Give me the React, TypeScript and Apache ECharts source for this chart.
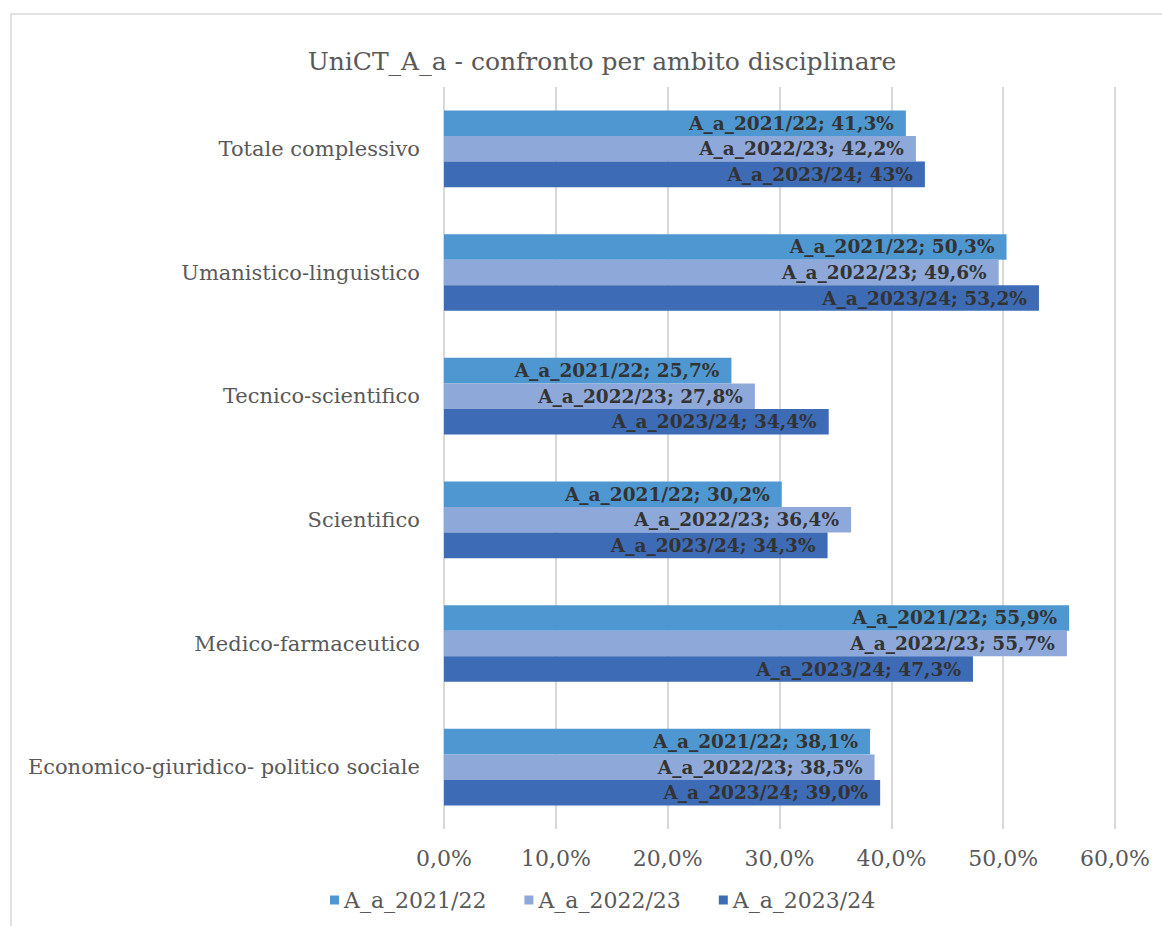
import React, { useEffect, useRef } from "react";
import * as echarts from "echarts";

const categories = [
  "Totale complessivo",
  "Umanistico-linguistico",
  "Tecnico-scientifico",
  "Scientifico",
  "Medico-farmaceutico",
  "Economico-giuridico- politico sociale",
];

const seriesNames = ["A_a_2021/22", "A_a_2022/23", "A_a_2023/24"];

const values2021 = [41.3, 50.3, 25.7, 30.2, 55.9, 38.1];
const values2022 = [42.2, 49.6, 27.8, 36.4, 55.7, 38.5];
const values2023 = [43.0, 53.2, 34.4, 34.3, 47.3, 39.0];

const labels2021 = ["41,3%", "50,3%", "25,7%", "30,2%", "55,9%", "38,1%"];
const labels2022 = ["42,2%", "49,6%", "27,8%", "36,4%", "55,7%", "38,5%"];
const labels2023 = ["43%", "53,2%", "34,4%", "34,3%", "47,3%", "39,0%"];

const xTicks = [0, 10, 20, 30, 40, 50, 60];

const colors = ["#4F97D1", "#8EA9D9", "#3D6BB5"];
const FONT = "DejaVu Serif";

export default function App() {
  const ref = useRef<HTMLDivElement>(null);
  useEffect(() => {
    if (!ref.current) return;
    const chart = echarts.init(ref.current, undefined, { renderer: "svg" });
    const allValues = [values2021, values2022, values2023];
    const allLabels = [labels2021, labels2022, labels2023];
    chart.setOption({
      animation: false,
      textStyle: { fontFamily: FONT },
      title: {
        text: "UniCT_A_a - confronto per ambito disciplinare",
        left: 597,
        top: 44,
        textAlign: "center",
        textStyle: { fontFamily: FONT, fontSize: 25, fontWeight: "normal", color: "#595959" },
      },
      graphic: [
        {
          type: "rect",
          shape: { x: 11, y: 14, width: 1300, height: 1000 },
          style: { fill: "none", stroke: "#D9D9D9", lineWidth: 1.5 },
          silent: true,
        },
      ],
      legend: {
        data: seriesNames,
        bottom: 10,
        left: 325,
        itemWidth: 9,
        itemHeight: 9,
        itemGap: 38,
        icon: "rect",
        textStyle: { fontFamily: FONT, fontSize: 22, color: "#595959" },
      },
      grid: { left: 444, right: 47, top: 87, bottom: 97, containLabel: false },
      xAxis: {
        type: "value",
        min: xTicks[0],
        max: xTicks[xTicks.length - 1],
        interval: 10,
        axisLine: { show: false },
        axisTick: { show: false },
        splitLine: { lineStyle: { color: "#D9D9D9", width: 2 } },
        axisLabel: {
          margin: 18,
          fontFamily: FONT,
          fontSize: 22,
          color: "#595959",
          formatter: (v: number) => v.toFixed(1).replace(".", ",") + "%",
        },
      },
      yAxis: {
        type: "category",
        data: categories,
        inverse: true,
        axisLine: { show: false },
        axisTick: { show: false },
        axisLabel: { margin: 24, fontFamily: FONT, fontSize: 21, color: "#595959" },
      },
      series: seriesNames.map((name, si) => ({
        name,
        type: "bar",
        data: allValues[si],
        barGap: "0%",
        barCategoryGap: "38%",
        itemStyle: { color: colors[si] },
        label: {
          show: true,
          position: "insideRight",
          distance: 12,
          fontFamily: FONT,
          fontSize: 18.5,
          fontWeight: "bold",
          color: "#333333",
          formatter: (p: any) => name + "; " + allLabels[si][p.dataIndex],
        },
      })),
    });
    return () => chart.dispose();
  }, []);
  return (
    <div
      ref={ref}
      style={{ position: "absolute", left: 0, top: 0, width: 1162, height: 926, background: "#fff" }}
    />
  );
}
